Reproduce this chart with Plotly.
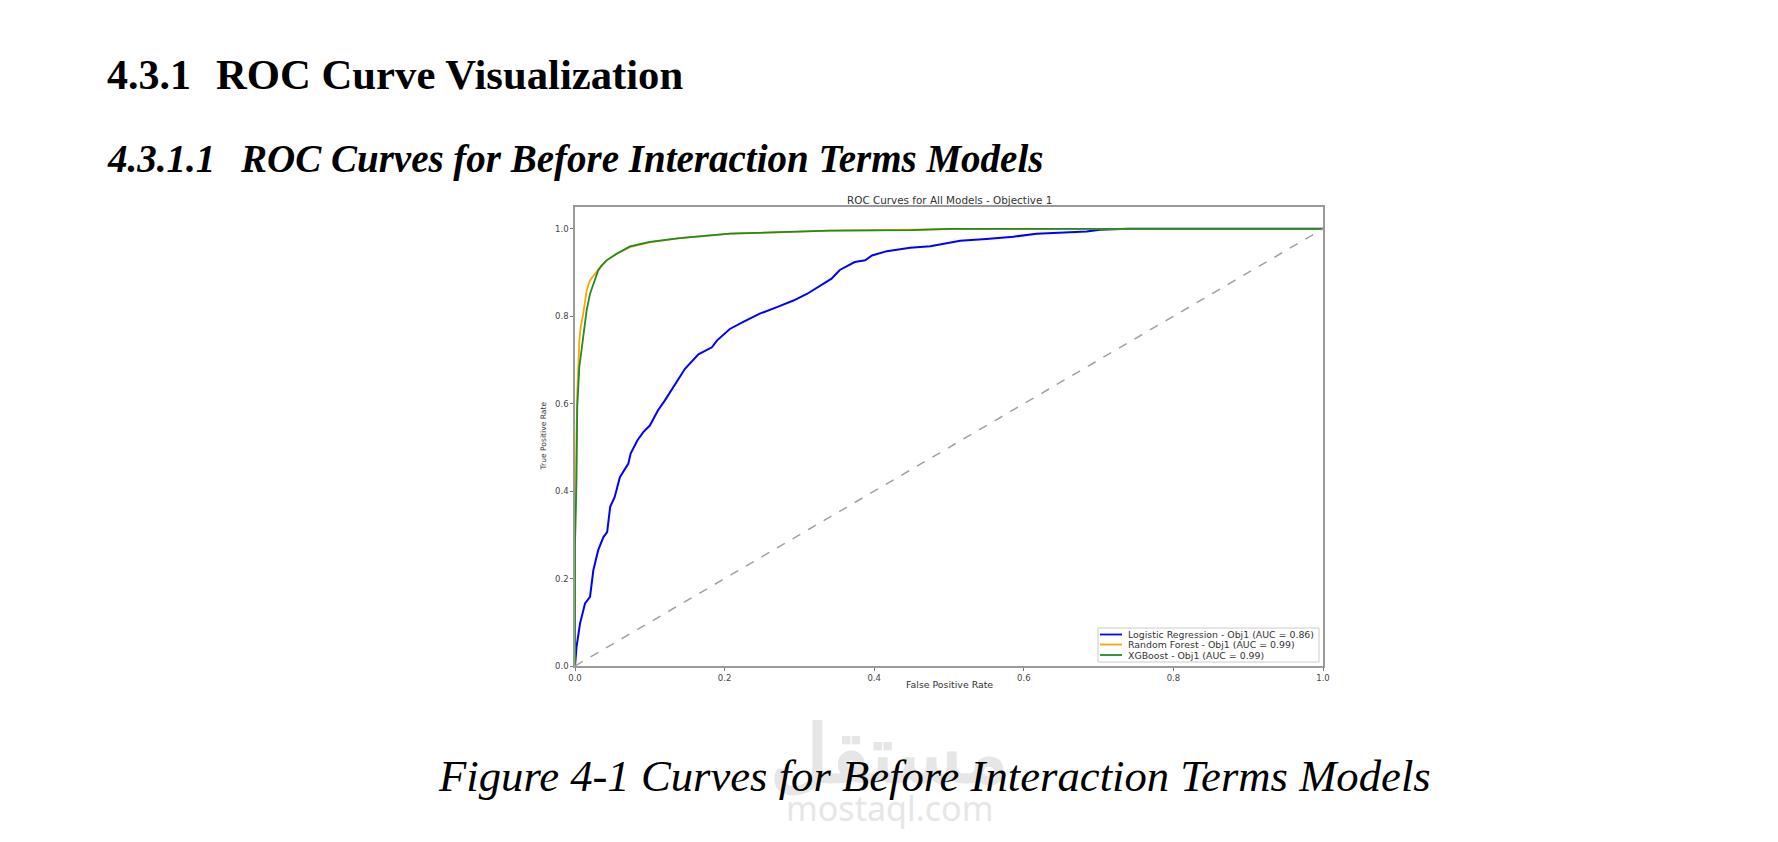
import plotly.graph_objects as go

# ---- data ----
lr_fpr = [0.0, 0.002, 0.0067, 0.0134, 0.0201, 0.0245, 0.031, 0.038, 0.043, 0.047, 0.053, 0.060,
          0.0713, 0.0744, 0.0833, 0.0913, 0.100, 0.111, 0.120, 0.131, 0.147, 0.165, 0.183, 0.190,
          0.207, 0.225, 0.247, 0.270, 0.292, 0.310, 0.323, 0.343, 0.354, 0.374, 0.388, 0.397,
          0.417, 0.448, 0.475, 0.515, 0.550, 0.586, 0.617, 0.648, 0.684, 0.702, 0.740, 1.0]
lr_tpr = [0.0, 0.043, 0.097, 0.143, 0.158, 0.219, 0.265, 0.295, 0.306, 0.364, 0.386, 0.432,
          0.463, 0.486, 0.516, 0.535, 0.550, 0.585, 0.607, 0.638, 0.680, 0.713, 0.729, 0.745,
          0.771, 0.787, 0.806, 0.821, 0.836, 0.851, 0.865, 0.886, 0.906, 0.924, 0.928, 0.939,
          0.949, 0.957, 0.960, 0.973, 0.977, 0.982, 0.989, 0.992, 0.994, 0.998, 1.0, 1.0]

rf_fpr = [0.0, 0.0, 0.002, 0.003, 0.0058, 0.0076, 0.011, 0.0156, 0.020, 0.0267, 0.0334, 0.0423,
          0.0557, 0.0735, 0.100, 0.140, 0.207, 0.274, 0.341, 0.45, 0.52, 1.0]
rf_tpr = [0.0, 0.28, 0.531, 0.623, 0.745, 0.775, 0.806, 0.859, 0.882, 0.897, 0.912, 0.928,
          0.943, 0.958, 0.969, 0.979, 0.989, 0.992, 0.996, 0.998, 1.0, 1.0]

xgb_fpr = [0.0, 0.0, 0.002, 0.003, 0.0058, 0.0089, 0.0125, 0.0156, 0.020, 0.0254, 0.031, 0.0356,
           0.0423, 0.0557, 0.0735, 0.100, 0.140, 0.207, 0.274, 0.341, 0.45, 0.50, 1.0]
xgb_tpr = [0.0, 0.28, 0.425, 0.592, 0.684, 0.729, 0.767, 0.814, 0.851, 0.878, 0.905, 0.916,
           0.928, 0.943, 0.960, 0.970, 0.979, 0.989, 0.992, 0.996, 0.997, 1.0, 1.0]

diag = [0.0, 1.0]

names = ["Logistic Regression - Obj1 (AUC = 0.86)",
         "Random Forest - Obj1 (AUC = 0.99)",
         "XGBoost - Obj1 (AUC = 0.99)"]
colors = ["#0000ff", "#ffa500", "#228b22"]
widths = [2, 1.8, 1.8]
ticks = [0.0, 0.2, 0.4, 0.6, 0.8, 1.0]
tick_text = ["0.0", "0.2", "0.4", "0.6", "0.8", "1.0"]

# ---- geometry ----
W, H = 1778, 842
L, R, T, B = 575, 1323, 207, 666
pw, ph = R - L, B - T

def px(x):
    return (x - L) / pw

def py(y):
    return (B - y) / ph

fig = go.Figure()
for fx, ty, nm, c, w in zip([lr_fpr, rf_fpr, xgb_fpr], [lr_tpr, rf_tpr, xgb_tpr], names, colors, widths):
    fig.add_trace(go.Scatter(x=fx, y=ty, mode="lines", name=nm, showlegend=False,
                             line=dict(color=c, width=w)))
fig.add_trace(go.Scatter(x=diag, y=diag, mode="lines", showlegend=False,
                         line=dict(color="#a0a0a0", width=1.5, dash="dash")))

axis_common = dict(showgrid=False, zeroline=False, showline=True, linecolor="#9a9a9a",
                   linewidth=1.5, mirror=True, ticks="outside", ticklen=3, tickwidth=1,
                   tickcolor="#777", tickfont=dict(family="DejaVu Sans", size=8.5, color="#444"),
                   tickvals=ticks, ticktext=tick_text)

fig.update_layout(
    width=W, height=H,
    margin=dict(l=L, r=W - R, t=T, b=H - B),
    paper_bgcolor="white", plot_bgcolor="white",
    xaxis=dict(range=[0, 1.0], **axis_common),
    yaxis=dict(range=[0, 1.05], **axis_common),
    showlegend=False,
)

# ---- compact legend (matplotlib style) ----
leg_left, leg_right, leg_top, leg_bottom = 1098, 1319, 628, 662
row_y = [634.5, 644.5, 655]
shapes = [dict(type="rect", xref="paper", yref="paper",
               x0=px(leg_left), x1=px(leg_right), y0=py(leg_bottom), y1=py(leg_top),
               line=dict(color="#cccccc", width=1), fillcolor="white", layer="above")]
for ry, c in zip(row_y, colors):
    shapes.append(dict(type="line", xref="paper", yref="paper",
                       x0=px(1100), x1=px(1122), y0=py(ry), y1=py(ry),
                       line=dict(color=c, width=1.8), layer="above"))
fig.update_layout(shapes=shapes)

annotations = []
for ry, nm in zip(row_y, names):
    annotations.append(dict(text=nm, x=px(1126), y=py(ry), xanchor="left",
                            font=dict(family="DejaVu Sans", size=9.4, color="#333")))

annotations += [
    # watermark
    dict(text="<b>مستقل</b>", x=px(889), y=py(750), font=dict(family="Noto Sans", size=80, color="#e6e6e6")),
    dict(text="mostaql.com", x=px(889), y=py(808), font=dict(family="Noto Sans", size=34, color="#e6e6e6")),
    # chart texts
    dict(text="ROC Curves for All Models - Objective 1", x=0.5, y=py(200),
         font=dict(family="DejaVu Sans", size=10.4, color="#333")),
    dict(text="False Positive Rate", x=0.5, y=py(684),
         font=dict(family="DejaVu Sans", size=9.4, color="#333")),
    dict(text="True Positive Rate", x=px(543), y=0.5, textangle=-90,
         font=dict(family="DejaVu Sans", size=7.6, color="#333")),
    # document texts
    dict(text="<b>4.3.1</b>", x=px(105), y=py(75), xanchor="left",
         font=dict(family="Liberation Serif", size=42, color="black")),
    dict(text="<b>ROC Curve Visualization</b>", x=px(214), y=py(75), xanchor="left",
         font=dict(family="Liberation Serif", size=42.7, color="black")),
    dict(text="<b><i>4.3.1.1</i></b>", x=px(105), y=py(159), xanchor="left",
         font=dict(family="Liberation Serif", size=39, color="black")),
    dict(text="<b><i>ROC Curves for Before Interaction Terms Models</i></b>", x=px(238), y=py(159),
         xanchor="left", font=dict(family="Liberation Serif", size=39, color="black")),
    dict(text="<i>Figure 4-1 Curves for Before Interaction Terms Models</i>", x=px(934), y=py(776),
         font=dict(family="Liberation Serif", size=44.7, color="black")),
]
for a in annotations:
    a.setdefault("xanchor", "center")
    a.setdefault("yanchor", "middle")
    fig.add_annotation(xref="paper", yref="paper", showarrow=False, **a)

fig.write_html("out.html")
